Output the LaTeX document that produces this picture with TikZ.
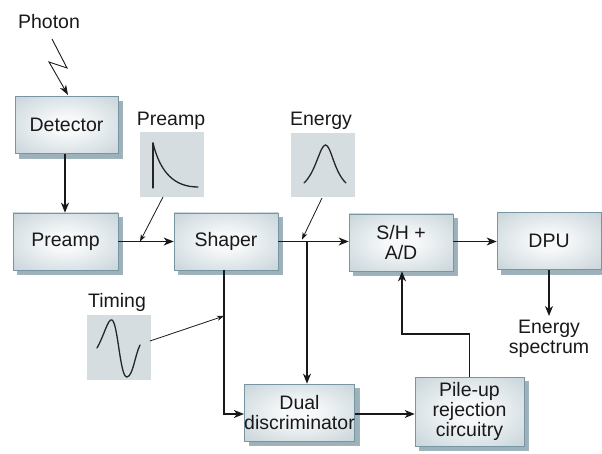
\documentclass[tikz,border=0pt]{standalone}
\usepackage{fontspec}
\setmainfont{Liberation Sans}
\usetikzlibrary{arrows.meta,shadows}
\definecolor{boxborder}{HTML}{7896A2}
\definecolor{boxouter}{HTML}{B0C2C9}
\definecolor{boxcorner}{HTML}{A2B6BE}
\definecolor{boxinner}{HTML}{F6F8F9}
\definecolor{boxshadow}{HTML}{9CB1BA}
\definecolor{wavefill}{HTML}{D5DDE0}
\pgfdeclareradialshading{blockshade}{\pgfpoint{0bp}{0bp}}{color(0bp)=(boxinner); color(8bp)=(boxinner); color(50bp)=(boxouter); color(72bp)=(boxcorner)}
\begin{document}
\begin{tikzpicture}[x=1pt,y=-1pt,
  every node/.style={font=\fontsize{19.5}{20}\selectfont, text=black!90},
  blockbox/.style={draw=boxborder, line width=0.7pt, shading=blockshade, align=center,
    minimum width=104pt, minimum height=57pt, inner sep=0pt,
    general shadow={shadow xshift=4.5pt, shadow yshift=-4.5pt, fill=boxshadow, draw=boxborder!70, line width=0.4pt}},
  wavebox/.style={fill=wavefill, draw=none},
  wave/.style={line width=1.3pt, black!85, line cap=round},
  conn/.style={line width=1.1pt, black!90, -{Stealth[length=10pt,width=8pt,inset=3pt]}},
  thin/.style={line width=0.8pt, black!90, -{Stealth[length=7pt,width=5pt,inset=2pt]}}
]
\useasboundingbox (0,0) rectangle (602,454);

% blocks
\node[blockbox, minimum width=103pt] (det) at (66.5,125) {Detector};
\node[blockbox, minimum width=105pt] (pre) at (65.5,241.5) {Preamp};
\node[blockbox] (sha) at (226,241.5) {Shaper};
\node[blockbox] (sh) at (401,242.5) {S/H +\\A/D};
\node[blockbox] (dpu) at (549,241) {DPU};
\node[blockbox, minimum width=105pt] (dual) at (299.5,412.5) {Dual\\discriminator};
\node[blockbox, minimum width=109pt, minimum height=69pt] (pile) at (469.5,411.5) {Pile-up\\rejection\\circuitry};

% waveform boxes
\node[wavebox, minimum width=64pt, minimum height=65pt, inner sep=0pt] (pw) at (172,164.5) {};
\node[wavebox, minimum width=64pt, minimum height=64pt, inner sep=0pt] (ew) at (323,165) {};
\node[wavebox, minimum width=64pt, minimum height=65pt, inner sep=0pt] (tw) at (119,347.5) {};

% labels
\node (photon) at (49,22) {Photon};
\node (plabel) at (171,121) {Preamp};
\node (elabel) at (321,121) {Energy};
\node (tlabel) at (117,302) {Timing};
\node[align=center] (spec) at (549,339) {Energy\\spectrum};

% waveforms
\draw[wave] (153,143) -- (153,188);
\draw[wave] (153,143) .. controls (160,172) and (174,187) .. (198,187);
\draw[wave] (304,183) .. controls (316,172) and (320,145) .. (325.5,145)
                    .. controls (331,145) and (334,172) .. (346,183);
\draw[wave] (97,348) .. controls (104,336) and (108,318) .. (112,320)
               .. controls (118,323) and (120,378) .. (127,377)
               .. controls (133,376) and (135,355) .. (140,345);

% photon zigzag
\coordinate (z0) at (52,39);
\coordinate (z1) at (67,68);
\coordinate (z2) at (49,62);
\coordinate (z3) at (68,95);
\draw[line width=0.9pt, black!90, -{Stealth[length=10pt,width=7pt,inset=3pt]}] (z0) -- (z1) -- (z2) -- (z3);

% connectors
\draw[conn] (det.south -| 65,0) -- (pre.north -| 65,0);
\draw[conn] (pre.east) -- (sha.west |- pre.east);
\coordinate (jp) at (140,241.5);
\draw[thin] (163,197) -- (jp);

\coordinate (j1) at (307,241.5);
\draw[conn] (sha.east) -- (sh.west |- sha.east);
\draw[thin] (322,198) -- (302,239.5);
\draw[conn] (j1) -- (j1 |- dual.north);

\coordinate (s1) at (224,270);
\coordinate (s2) at (224,414);
\draw[conn] (s1) -- (s2) -- (dual.west |- s2);
\coordinate (jt) at (224,316);
\draw[thin] (150,341) -- (jt);

\draw[conn] (dual.east |- 0,414) -- (pile.west |- 0,414);

\coordinate (p1) at (469.5,334);
\coordinate (p2) at (402,334);
\draw[conn] (pile.north) -- (p1) -- (p2) -- (p2 |- sh.south);

\draw[conn] (sh.east |- 0,241.5) -- (dpu.west |- 0,241.5);
\draw[conn] (dpu.south -| 549,0) -- (549,316);
\end{tikzpicture}
\end{document}
